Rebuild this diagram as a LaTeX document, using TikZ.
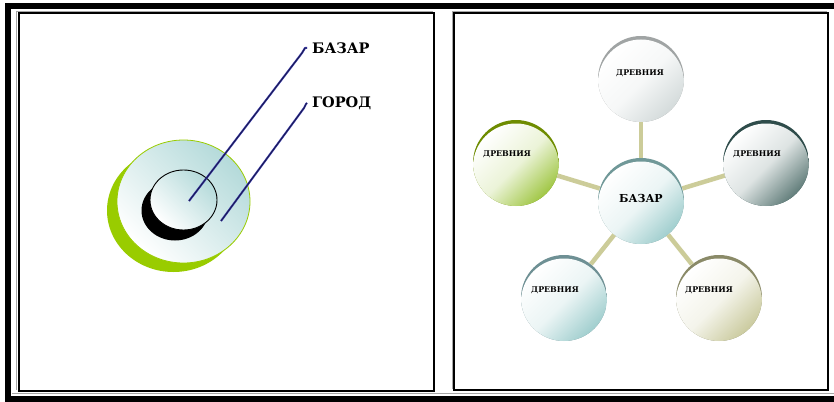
\documentclass[tikz,border=0pt]{standalone}
\usepackage{fontspec}
\newfontfamily\slab{DejaVu Serif}
\usetikzlibrary{calc}
\definecolor{grn}{HTML}{99CC00}
\definecolor{lteal}{HTML}{B4DADA}
\definecolor{navy}{HTML}{1C1C50}
\definecolor{glow}{HTML}{3A3AB0}
\definecolor{conn}{HTML}{CCCC99}
\definecolor{rimA}{HTML}{A0A4A4}\definecolor{fillA}{HTML}{D2D9D9}
\definecolor{rimB}{HTML}{6E8C00}\definecolor{fillB}{HTML}{9CC43C}
\definecolor{rimC}{HTML}{2E4C4A}\definecolor{fillC}{HTML}{5A7774}
\definecolor{rimD}{HTML}{709898}\definecolor{fillD}{HTML}{9CCCCC}
\definecolor{rimE}{HTML}{6E9094}\definecolor{fillE}{HTML}{9CCCCC}
\definecolor{rimF}{HTML}{8A8A68}\definecolor{fillF}{HTML}{C8C89A}
\tikzset{
  panel/.style={line width=2pt, draw=black},
  panelhalo/.style={line width=1pt, draw=black!35},
  bigtxt/.style={font=\slab\bfseries\fontsize{14.5}{14.5}\selectfont, inner sep=0pt, anchor=west},
  smalltxt/.style={font=\slab\bfseries\fontsize{7.9}{7.9}\selectfont, inner sep=0pt},
  midtxt/.style={font=\slab\bfseries\fontsize{11}{11}\selectfont, inner sep=0pt},
  bubble/.style n args={2}{circle, minimum size=86pt, inner sep=0pt, path picture={
      \fill[#1] (path picture bounding box.south west) rectangle (path picture bounding box.north east);
      \shade[top color=white, bottom color=#2, middle color=#2!20!white, shading angle=45]
        ([yshift=-3.5pt]path picture bounding box.center) circle[radius=43pt];
  }},
  link/.style={draw=conn, line width=4.5pt},
  pointer/.style={line width=2pt, draw=glow, line join=round},
  pointerin/.style={line width=0.9pt, draw=navy, line join=round},
}
\begin{document}
\begin{tikzpicture}[x=1pt,y=-1pt]
\useasboundingbox (0,0) rectangle (834,401);
\fill[white] (0,0) rectangle (834,401);
% outer frame
\begin{scope}
\clip (0,0) rectangle (834,401);
\draw[line width=6pt] (8,6.5) rectangle (850,398.5);
\end{scope}
\draw[black!35, line width=0.8pt] (12,393.5) -- (834,393.5);
% panels
\draw[panelhalo] (16.5,11.5) -- (432.5,11.5);
\draw[panelhalo] (16.5,11.5) -- (16.5,389.5);
\draw[panel] (18.5,13.5) rectangle (433.5,390.5);
\draw[panelhalo] (452,11.5) -- (826.5,11.5);
\draw[panelhalo] (452,11.5) -- (452,389);
\draw[panel] (454,13.5) rectangle (827.5,390);

% ---------- left panel ----------
\fill[grn] (173.5,210.5) ellipse[x radius=66.5pt, y radius=61.5pt];
\shade[top color=lteal, bottom color=white, shading angle=-45, draw=grn, line width=0.8pt]
  (183.5,201.5) ellipse[x radius=66.5pt, y radius=61.5pt];
\fill[black] (175,210.5) ellipse[x radius=33.5pt, y radius=30pt];
\shade[top color=lteal, bottom color=white, shading angle=-45, draw=black, line width=0.9pt]
  (183.5,200) ellipse[x radius=33.5pt, y radius=30pt];

\node[bigtxt] (lbazar) at (312,48) {БАЗАР};
\node[bigtxt] (lgorod) at (312,103) {ГОРОД};
\coordinate (pA) at (189,201);
\coordinate (pB) at (221,221);
\coordinate (hA) at ($(lbazar.west)+(-5,0)$);
\coordinate (hB) at ($(lgorod.west)+(-5,0)$);
\foreach \s in {pointer,pointerin}{
  \draw[\s] (pA) -- ($(hA)+(-5,5)$) -- ($(hA)+(-2,0)$) -- (hA);
  \draw[\s] (pB) -- ($(hB)+(-3,5)$) -- ($(hB)+(-1,1)$) -- (hB);
}

% ---------- right panel ----------
\node[bubble={rimD}{fillD}] (c)  at (641,201) {};
\node[bubble={rimA}{fillA}] (n1) at (641,79) {};
\node[bubble={rimB}{fillB}] (n2) at (516,163) {};
\node[bubble={rimC}{fillC}] (n3) at (766,163) {};
\node[bubble={rimE}{fillE}] (n4) at (564,298) {};
\node[bubble={rimF}{fillF}] (n5) at (719,298) {};
\foreach \n in {n1,n2,n3,n4,n5}{ \draw[link] (c) -- (\n); }

\node[midtxt] (tc) at (641,198) {БАЗАР};
\node[smalltxt] (t1) at (640,73) {ДРЕВНИЯ};
\node[smalltxt] (t2) at (507,154) {ДРЕВНИЯ};
\node[smalltxt] (t3) at (757,154) {ДРЕВНИЯ};
\node[smalltxt] (t4) at (555,290) {ДРЕВНИЯ};
\node[smalltxt] (t5) at (709,290) {ДРЕВНИЯ};
\end{tikzpicture}
\end{document}
